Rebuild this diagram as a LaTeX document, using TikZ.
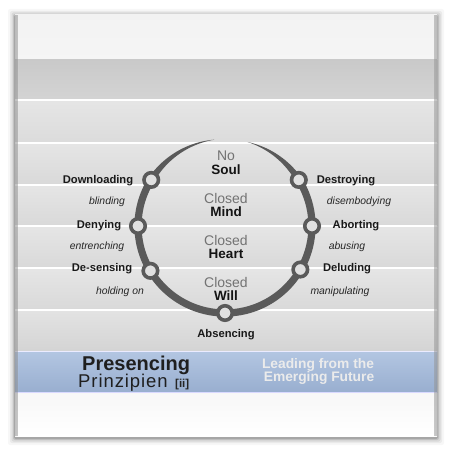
\documentclass[tikz,border=0pt]{standalone}
\usepackage{fontspec}
\setmainfont{Liberation Sans}
\begin{document}
\begin{tikzpicture}[x=1pt,y=-1pt,
  declare function={hw(\t)=3.6*min(1,(\t-97)/55,(435-\t)/45);},
  ring/.style={circle,draw=arcgray,line width=3.6pt,fill=ringfill,minimum size=14.5pt,inner sep=0pt},
  lbl/.style={font=\fontsize{11.2}{13}\selectfont\bfseries,text=black!90,inner sep=0pt},
  sub/.style={font=\fontsize{10.4}{12}\selectfont\itshape,text=black!85,inner sep=0pt},
  cgray/.style={font=\fontsize{14}{14}\selectfont,text=black!55,inner sep=0pt},
  cbold/.style={font=\fontsize{13.5}{14}\selectfont\bfseries,text=black!92,inner sep=0pt}
]
\definecolor{arcgray}{HTML}{5A5A5A}
\definecolor{ringfill}{HTML}{E0E0E0}
\definecolor{blueT}{HTML}{B3C6E2}
\definecolor{blueB}{HTML}{98AECF}
\useasboundingbox (0,0) rectangle (452,452);
\fill[white] (0,0) rectangle (452,452);
% shadow
\foreach \d/\o in {7/0.03,5/0.05,3.5/0.07,2/0.1,1/0.14}{
  \fill[black,opacity=\o,rounded corners=2pt] (15-\d,15-\d+1) rectangle (437+\d,437+\d+1);
}
% paper bands
\fill[top color=white!95!black,bottom color=white!96!black] (15,15) rectangle (437,60);
\fill[top color=white!79!black,bottom color=white!83!black] (15,60) rectangle (437,100);
\fill[top color=white!90!black,bottom color=white!86!black] (15,100) rectangle (437,143);
\foreach \a/\b in {143/185,185/226,226/268,268/310}{
  \fill[top color=white!90!black,bottom color=white!85!black] (15,\a) rectangle (437,\b);
}
\fill[top color=white!89!black,bottom color=white!83!black] (15,310) rectangle (437,351);
\fill[top color=blueT,bottom color=blueB] (15,351) rectangle (437,393);
\fill[top color=white!97!black,bottom color=white] (15,393) rectangle (437,436);
\foreach \y in {100,143,185,226,268,310}{
  \draw[white,line width=1.3pt] (15,\y) -- (437,\y);
}
\draw[white!92!blue,line width=1.2pt] (15,351.5) -- (437,351.5);
\draw[white!85!blue,line width=1.5pt] (15,392.5) -- (437,392.5);
% side shading
\fill[left color=black!10,right color=black!0,opacity=0.3] (15,15) rectangle (18,436);
\fill[right color=black!10,left color=black!0,opacity=0.3] (434,15) rectangle (437,436);
% arc
\coordinate (c) at (225,226);
\fill[arcgray] plot[domain=97:435,samples=160,smooth]
   ({225+(87+hw(\x))*cos(\x)},{226-(87+hw(\x))*sin(\x)})
   -- plot[domain=97:435,samples=160,smooth]
   ({225+(87-hw(532-\x))*cos(532-\x)},{226-(87-hw(532-\x))*sin(532-\x)}) -- cycle;
% rings
\node[ring] (r1) at ([shift={(c)}]-148:87) {};
\node[ring] (r2) at ([shift={(c)}]180:87) {};
\node[ring] (r3) at ([shift={(c)}]149:87) {};
\node[ring] (r4) at ([shift={(c)}]90:87) {};
\node[ring] (r5) at ([shift={(c)}]-32:87) {};
\node[ring] (r6) at ([shift={(c)}]0:87) {};
\node[ring] (r7) at ([shift={(c)}]30:87) {};
% centre texts
\node[cgray] (no) at (226,156) {No};
\node[cbold] (soul) at (226,170) {Soul};
\node[cgray] (cl1) at (226,198) {Closed};
\node[cbold] (mind) at (226,212) {Mind};
\node[cgray] (cl2) at (226,240) {Closed};
\node[cbold] (heart) at (226,254) {Heart};
\node[cgray] (cl3) at (226,282) {Closed};
\node[cbold] (will) at (226,296) {Will};
% left labels
\node[lbl] (dl) at (98,181) {Downloading};
\node[sub] (bl) at (107,202) {blinding};
\node[lbl] (dn) at (99,226) {Denying};
\node[sub] (en) at (97,247) {entrenching};
\node[lbl] (ds) at (102,269) {De-sensing};
\node[sub] (ho) at (120,292) {holding on};
% right labels
\node[lbl] (de) at (346,181) {Destroying};
\node[sub] (di) at (359,202) {disembodying};
\node[lbl] (ab) at (356,226) {Aborting};
\node[sub] (au) at (347,247) {abusing};
\node[lbl] (du) at (347,269) {Deluding};
\node[sub] (ma) at (340,292) {manipulating};
\node[lbl] (abs) at (226,335) {Absencing};
% footer
\node[anchor=west,inner sep=0pt,font=\fontsize{20}{20}\selectfont\bfseries,text=black!88] (pres) at (82,365) {Presencing};
\node[anchor=west,inner sep=0pt,font=\fontsize{18.5}{18}\selectfont\addfontfeature{LetterSpace=5},text=black!88] (prin) at (78,383) {Prinzipien};
\node[anchor=west,inner sep=0pt,font=\fontsize{11.5}{11}\selectfont\bfseries,text=black!85] (ii) at (175,385) {[ii]};
\node[inner sep=0pt,font=\fontsize{13.8}{13}\selectfont\bfseries,text=white!92!black] (lead) at (318,365) {Leading from the};
\node[inner sep=0pt,font=\fontsize{13.8}{13}\selectfont\bfseries,text=white!92!black] (emer) at (319,378) {Emerging Future};
\end{tikzpicture}
\end{document}
